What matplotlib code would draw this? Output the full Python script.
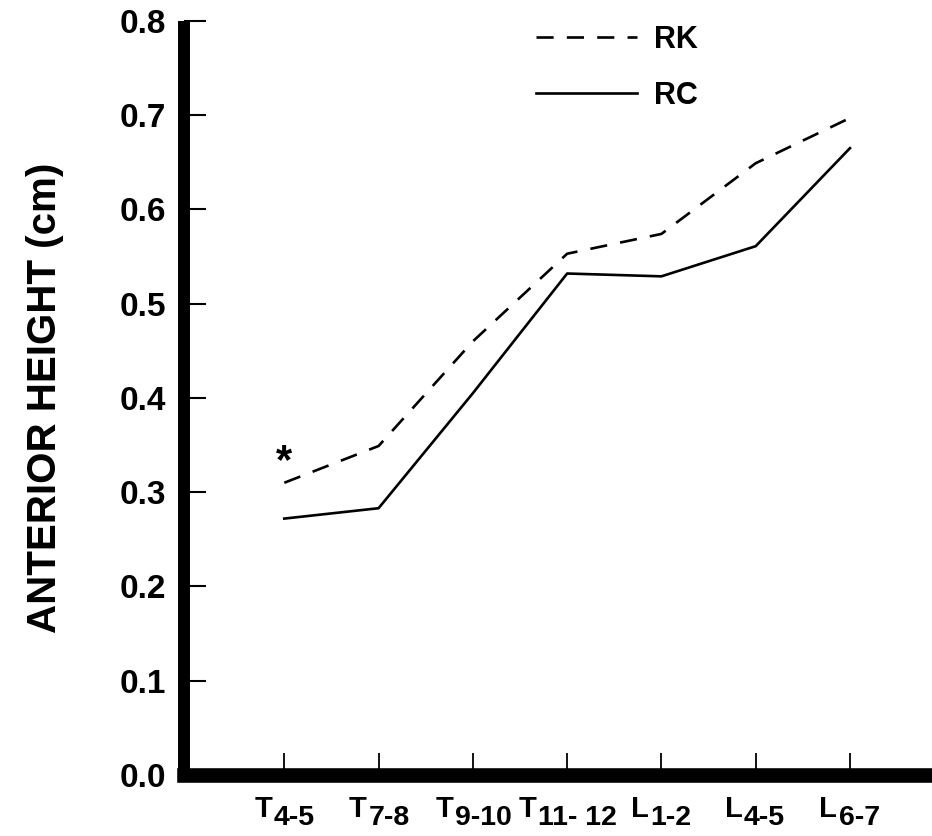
"""Anterior height by vertebral level, RK vs RC (recreated line chart)."""
import matplotlib
matplotlib.use("Agg")
import matplotlib.pyplot as plt
from matplotlib.font_manager import FontProperties
from matplotlib.textpath import TextPath
import numpy as np

level_letter = ["T", "T", "T", "T", "L", "L", "L"]
level_range = ["4-5", "7-8", "9-10", "11- 12", "1-2", "4-5", "6-7"]
rk = [0.310, 0.349, 0.460, 0.553, 0.574, 0.649, 0.697]
rc = [0.272, 0.283, 0.405, 0.532, 0.529, 0.561, 0.665]
star_level, star_value = 0, 0.332
yticks = [0.0, 0.1, 0.2, 0.3, 0.4, 0.5, 0.6, 0.7, 0.8]

plt.rcParams["font.family"] = ["Liberation Sans", "DejaVu Sans"]
plt.rcParams["font.weight"] = "bold"

fig = plt.figure(figsize=(9.32, 8.36), dpi=100)
ax = fig.add_axes([0.1974, 0.073, 0.8026, 0.902])

x = np.arange(len(level_letter))
ax.plot(x, rk, color="black", lw=1.9, dashes=(6.5, 5), label="RK")
ax.plot(x, rc, color="black", lw=1.9, label="RC")
ax.text(star_level, star_value, "*", ha="center", va="center",
        fontsize=30, fontweight="bold")

ax.set_xlim(-1.064, 6.87)
ax.set_ylim(0, 0.8)
ax.set_xticks(x)
ax.set_xticklabels([])
ax.set_yticks(yticks)
ax.set_yticklabels([f"{v:.1f}" for v in yticks], fontsize=24, fontweight="bold")
ax.tick_params(axis="x", direction="in", length=16, width=1.3)
ax.tick_params(axis="y", direction="in", length=16, width=1.5, pad=13)

# x labels: letter plus a full-size, lowered subscript range, centred on the tick
fp = FontProperties(family="Liberation Sans", weight="bold")
let_size, rng_size, gap = 21, 20.5, 1.0
for i, (let, rng) in enumerate(zip(level_letter, level_range)):
    wl = TextPath((0, 0), let, size=let_size, prop=fp).get_extents().width
    wr = TextPath((0, 0), rng, size=rng_size, prop=fp).get_extents().width
    left = -(wl + gap + wr) / 2
    ax.annotate(let, (i, 0), xycoords=("data", "axes fraction"),
                xytext=(left + wl, -30), textcoords="offset points",
                ha="right", va="baseline", fontsize=let_size, fontweight="bold",
                annotation_clip=False)
    ax.annotate(rng, (i, 0), xycoords=("data", "axes fraction"),
                xytext=(left + wl + gap, -36), textcoords="offset points",
                ha="left", va="baseline", fontsize=rng_size, fontweight="bold",
                annotation_clip=False)

for s in ("top", "right"):
    ax.spines[s].set_visible(False)
ax.spines["left"].set_linewidth(8.6)
ax.spines["bottom"].set_linewidth(10.5)
ax.spines["left"].set_capstyle("butt")

ax.set_ylabel("ANTERIOR HEIGHT (cm)", fontsize=29, fontweight="bold", labelpad=40)

ax.legend(loc="upper left", bbox_to_anchor=(0.4706, 0.995), frameon=False,
          handlelength=3.3, handletextpad=0.55, labelspacing=0.85,
          borderpad=0, borderaxespad=0, prop={"weight": "bold", "size": 22})

fig.savefig("out.png", dpi=100)
